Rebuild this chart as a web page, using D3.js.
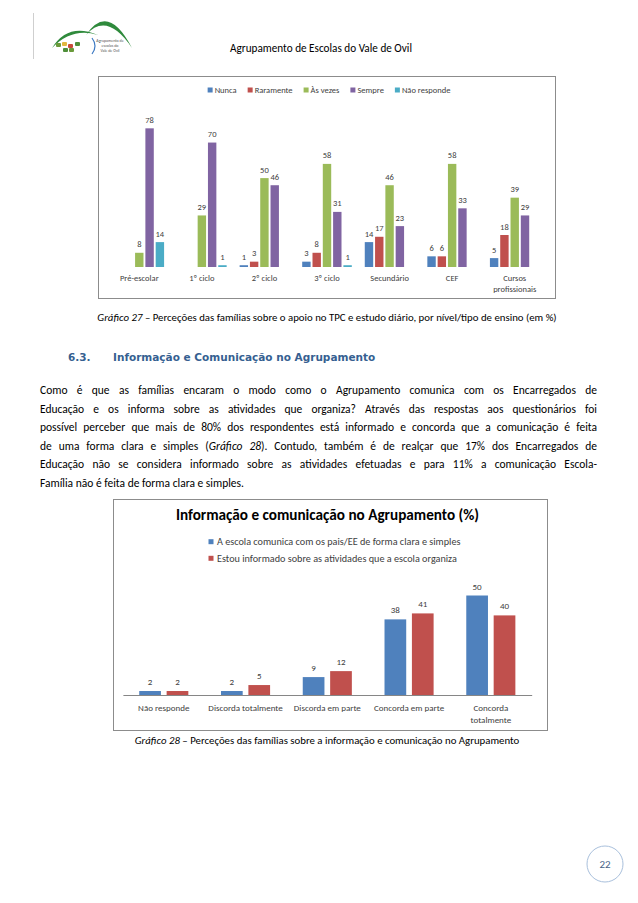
<!DOCTYPE html>
<html>
<head>
<meta charset="utf-8">
<script src="https://cdn.jsdelivr.net/npm/d3@7"></script>
<style>
  body { margin: 0; background: #fff; }
  svg { display: block; }
</style>
</head>
<body>
<div id="page"></div>
<script>
// Gráfico 27
var levels = ["Pré-escolar", "1º ciclo", "2º ciclo", "3º ciclo", "Secundário", "CEF", "Cursos profissionais"];
var levelTicks = ["Pré-escolar", "1º ciclo", "2º ciclo", "3º ciclo", "Secundário", "CEF", "Cursos\nprofissionais"];
var answers = ["Nunca", "Raramente", "Às vezes", "Sempre", "Não responde"];
var nunca = [0, 0, 1, 3, 14, 6, 5];
var raramente = [0, 0, 3, 8, 17, 6, 18];
var asVezes = [8, 29, 50, 58, 46, 58, 39];
var sempre = [78, 70, 46, 31, 23, 33, 29];
var naoResponde = [14, 1, 0, 1, 0, 0, 0];

// Gráfico 28
var opinions = ["Não responde", "Discorda totalmente", "Discorda em parte", "Concorda em parte", "Concorda totalmente"];
var opinionTicks = ["Não responde", "Discorda totalmente", "Discorda em parte", "Concorda em parte", "Concorda\ntotalmente"];
var items = ["A escola comunica com os pais/EE de forma clara e simples", "Estou informado sobre as atividades que a escola organiza"];
var comunica = [2, 2, 9, 38, 50];
var informado = [2, 5, 12, 41, 40];

var paragraph = [
  "Como é que as famílias encaram o modo como o Agrupamento comunica com os Encarregados de",
  "Educação e os informa sobre as atividades que organiza? Através das respostas aos questionários foi",
  "possível perceber que mais de 80% dos respondentes está informado e concorda que a comunicação é feita",
  "de uma forma clara e simples (*Gráfico 28*). Contudo, também é de realçar que 17% dos Encarregados de",
  "Educação não se considera informado sobre as atividades efetuadas e para 11% a comunicação Escola-",
  "Família não é feita de forma clara e simples."
];

var font = "Carlito, Calibri, Lato, sans-serif";
var labelColor = "#404040";

var svg = d3.select("#page").append("svg")
    .attr("width", 638)
    .attr("height", 903)
    .style("font-family", font);

// ---- cabeçalho ----
svg.append("line")
    .attr("x1", 33.5).attr("x2", 33.5).attr("y1", 13).attr("y2", 59)
    .attr("stroke", "#cfcfcf");

var logo = svg.append("g");
logo.append("path").attr("d", "M52,48 Q68,22 98,35 Q72,27 52,48 Z").attr("fill", "#2f8a3c");
logo.append("path").attr("d", "M86,35 Q108,2 132,48 Q107,11 86,35 Z").attr("fill", "#2f8a3c");
logo.append("path").attr("d", "M92,38 Q98,46 92,54").attr("fill", "none").attr("stroke", "#3a78c2").attr("stroke-width", 1.2);
[[56, 43, "#6a9a3a"], [62, 42, "#e2b840"], [68, 44, "#c84a3a"], [75, 42, "#4f8f3a"], [63, 48, "#4f8f3a"], [69, 48, "#6a9a3a"]]
  .forEach(function(s) {
    logo.append("rect").attr("x", s[0]).attr("y", s[1]).attr("width", 5).attr("height", 4).attr("rx", 1).attr("fill", s[2]);
  });
["Agrupamento de", "escolas do", "Vale de Ovil"].forEach(function(t, i) {
  logo.append("text").attr("x", 110).attr("y", 42 + i * 5)
      .attr("text-anchor", "middle").style("font-size", "4px").attr("fill", "#555").text(t);
});

svg.append("text")
    .attr("x", 321).attr("y", 52)
    .attr("text-anchor", "middle")
    .style("font-size", "11.2px")
    .attr("fill", "#000")
    .text("Agrupamento de Escolas do Vale de Ovil");

// ---- Gráfico 27 ----
var c1 = svg.append("g");
c1.append("rect")
    .attr("x", 98.5).attr("y", 76.5).attr("width", 457).attr("height", 222)
    .attr("fill", "none").attr("stroke", "#8c8c8c");

var series1 = [nunca, raramente, asVezes, sempre, naoResponde];
var colors1 = d3.scaleOrdinal().domain(answers).range(["#4F81BD", "#C0504D", "#9BBB59", "#8064A2", "#4BACC6"]);
var x1 = d3.scaleBand().domain(levels).range([108, 546]);
var xs1 = d3.scaleBand().domain(answers).range([-24.8, 24.8]).paddingInner(0.184);
var y1 = d3.scaleLinear().domain([0, 90]).range([267, 107]);

var data1 = [];
answers.forEach(function(a, j) {
  levels.forEach(function(l, i) {
    data1.push({ level: l, answer: a, value: series1[j][i] });
  });
});

c1.selectAll("rect.bar")
    .data(data1.filter(function(d) { return d.value > 0; }))
    .enter()
    .append("rect")
    .attr("class", "bar")
    .attr("x", function(d) { return x1(d.level) + x1.bandwidth() / 2 + xs1(d.answer); })
    .attr("y", function(d) { return y1(d.value); })
    .attr("width", xs1.bandwidth())
    .attr("height", function(d) { return y1(0) - y1(d.value); })
    .attr("fill", function(d) { return colors1(d.answer); });

c1.selectAll("text.val")
    .data(data1.filter(function(d) { return d.value > 0; }))
    .enter()
    .append("text")
    .attr("class", "val")
    .attr("x", function(d) { return x1(d.level) + x1.bandwidth() / 2 + xs1(d.answer) + xs1.bandwidth() / 2; })
    .attr("y", function(d) { return y1(d.value) - 5.5; })
    .attr("text-anchor", "middle")
    .style("font-size", "8.5px")
    .attr("fill", labelColor)
    .text(function(d) { return d.value; });

var ax1 = c1.append("g")
    .attr("transform", "translate(0," + y1(0) + ")")
    .call(d3.axisBottom(x1).tickSize(0).tickFormat(function(d, i) { return levelTicks[i]; }));
ax1.select(".domain").remove();
styleTicks(ax1, 8, "8.5px", 11);

// legenda 1
var leg1 = c1.append("g");
var lx = 0;
var legItems = leg1.selectAll("g").data(answers).enter().append("g");
legItems.append("rect").attr("y", -2.5).attr("width", 5).attr("height", 5).attr("fill", function(d) { return colors1(d); });
legItems.append("text").attr("x", 7).attr("y", 3).style("font-size", "8.5px").attr("fill", labelColor).text(function(d) { return d; });
legItems.each(function() {
  var g = d3.select(this);
  g.attr("transform", "translate(" + lx + ",0)");
  lx += 7 + g.select("text").node().getComputedTextLength() + 11;
});
lx -= 11;
leg1.attr("transform", "translate(" + (329 - lx / 2) + ",90)");

caption(svg, 327, 321, "Gráfico 27", " – Perceções das famílias sobre o apoio no TPC e estudo diário, por nível/tipo de ensino (em %)");

// ---- título 6.3 ----
svg.append("text").attr("x", 68).attr("y", 361)
    .style("font-family", "'DejaVu Sans', sans-serif").style("font-weight", "bold").style("font-size", "10.5px")
    .attr("fill", "#365F91").text("6.3.");
svg.append("text").attr("x", 113).attr("y", 361)
    .style("font-family", "'DejaVu Sans', sans-serif").style("font-weight", "bold").style("font-size", "10.5px")
    .attr("fill", "#365F91").text("Informação e Comunicação no Agrupamento");

// ---- parágrafo ----
var body = svg.append("g");
paragraph.forEach(function(line, i) {
  var t = body.append("text")
      .attr("x", 40).attr("y", 394 + i * 18.5)
      .style("font-size", "11.5px")
      .attr("fill", "#000");
  line.split("*").forEach(function(part, k) {
    t.append("tspan").style("font-style", k % 2 ? "italic" : "normal").text(part);
  });
  if (i < paragraph.length - 1) {
    var w = t.node().getComputedTextLength();
    var spaces = (line.match(/ /g) || []).length;
    t.attr("word-spacing", (557 - w) / spaces);
  }
});

// ---- Gráfico 28 ----
var c2 = svg.append("g");
c2.append("rect")
    .attr("x", 113.5).attr("y", 499.5).attr("width", 434).attr("height", 231)
    .attr("fill", "none").attr("stroke", "#8c8c8c");

c2.append("text")
    .attr("x", 327.5).attr("y", 520)
    .attr("text-anchor", "middle")
    .style("font-size", "15.2px").style("font-weight", "bold")
    .attr("fill", "#000")
    .text("Informação e comunicação no Agrupamento (%)");

var series2 = [comunica, informado];
var colors2 = d3.scaleOrdinal().domain(items).range(["#4F81BD", "#C0504D"]);
var x2 = d3.scaleBand().domain(opinions).range([122.9, 531.7]);
var xs2 = d3.scaleBand().domain(items).range([-24.55, 24.55]).paddingInner(0.208);
var y2 = d3.scaleLinear().domain([0, 60]).range([695, 575.6]);

var data2 = [];
items.forEach(function(it, j) {
  opinions.forEach(function(o, i) {
    data2.push({ opinion: o, item: it, value: series2[j][i] });
  });
});

c2.selectAll("rect.bar")
    .data(data2)
    .enter()
    .append("rect")
    .attr("class", "bar")
    .attr("x", function(d) { return x2(d.opinion) + x2.bandwidth() / 2 + xs2(d.item); })
    .attr("y", function(d) { return y2(d.value); })
    .attr("width", xs2.bandwidth())
    .attr("height", function(d) { return y2(0) - y2(d.value); })
    .attr("fill", function(d) { return colors2(d.item); });

c2.selectAll("text.val")
    .data(data2)
    .enter()
    .append("text")
    .attr("class", "val")
    .attr("x", function(d) { return x2(d.opinion) + x2.bandwidth() / 2 + xs2(d.item) + xs2.bandwidth() / 2; })
    .attr("y", function(d) { return y2(d.value) - 6; })
    .attr("text-anchor", "middle")
    .style("font-size", "9px")
    .attr("fill", labelColor)
    .text(function(d) { return d.value; });

var ax2 = c2.append("g")
    .attr("transform", "translate(0," + y2(0) + ")")
    .call(d3.axisBottom(x2).tickSize(0).tickSizeOuter(0).tickFormat(function(d, i) { return opinionTicks[i]; }));
ax2.select(".domain").attr("stroke", "#868686");
styleTicks(ax2, 10, "9px", 11.5);

var leg2 = c2.selectAll("g.leg").data(items).enter().append("g")
    .attr("class", "leg")
    .attr("transform", function(d, i) { return "translate(208.5," + (541.7 + i * 16.6) + ")"; });
leg2.append("rect").attr("y", -2.5).attr("width", 5).attr("height", 5).attr("fill", function(d) { return colors2(d); });
leg2.append("text").attr("x", 8.5).attr("y", 3.5).style("font-size", "10.2px").attr("fill", labelColor).text(function(d) { return d; });

caption(svg, 327, 744, "Gráfico 28", " – Perceções das famílias sobre a informação e comunicação no Agrupamento");

// ---- número da página ----
svg.append("circle").attr("cx", 605).attr("cy", 864).attr("r", 18)
    .attr("fill", "none").attr("stroke", "#a9c0dc");
svg.append("text").attr("x", 605).attr("y", 868).attr("text-anchor", "middle")
    .style("font-size", "11px").attr("fill", "#4a6388").text("22");

function styleTicks(axis, y, size, lineH) {
  axis.selectAll("text")
      .attr("y", y)
      .style("font-size", size)
      .style("font-family", font)
      .attr("fill", labelColor)
      .each(function() {
        var t = d3.select(this);
        var lines = t.text().split("\n");
        t.text(null);
        lines.forEach(function(l, k) {
          t.append("tspan").attr("x", 0).attr("dy", k ? lineH : "0.71em").text(l);
        });
      });
}

function caption(parent, cx, y, italic, rest) {
  var t = parent.append("text")
      .attr("x", cx).attr("y", y)
      .attr("text-anchor", "middle")
      .style("font-size", "10.8px")
      .attr("fill", "#000");
  t.append("tspan").style("font-style", "italic").text(italic);
  t.append("tspan").text(rest);
}
</script>
</body>
</html>
